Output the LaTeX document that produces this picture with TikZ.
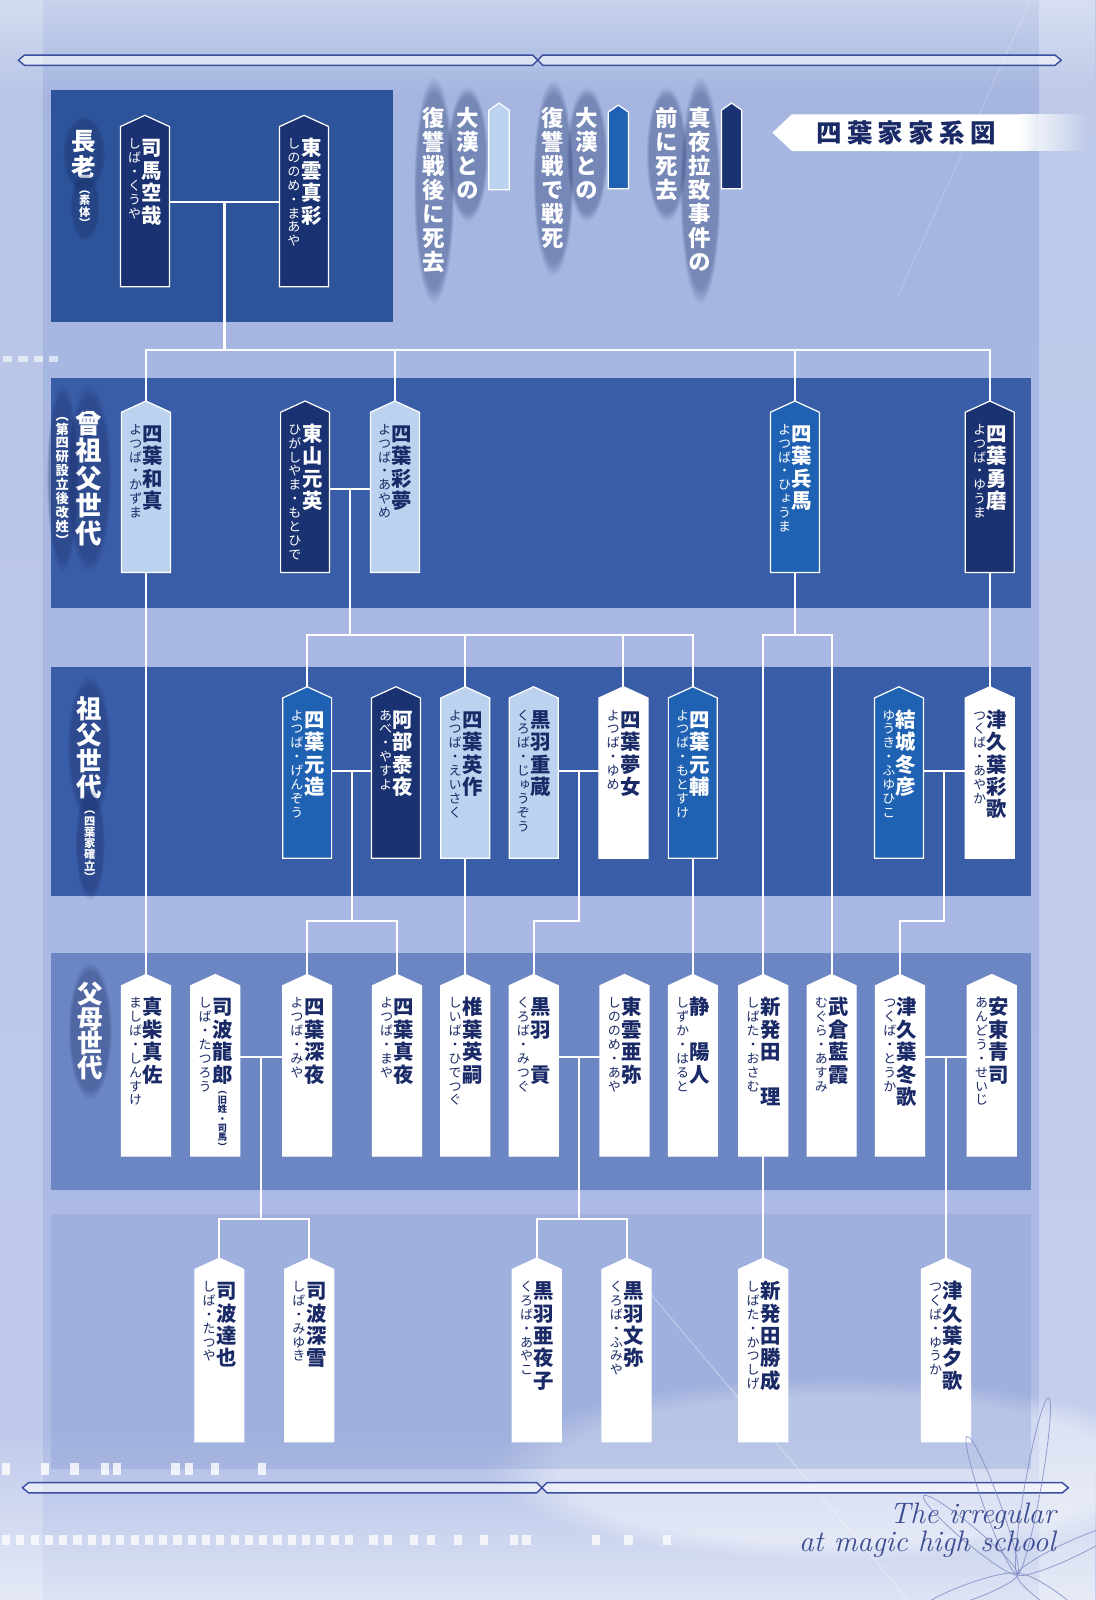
\documentclass[tikz,border=0pt]{standalone}
\usepackage{fontspec}
\newfontfamily\jp{Noto Sans CJK JP}[RawFeature=+vert]
\usetikzlibrary{calc,fadings}

\definecolor{cDark}{HTML}{1B3272}
\definecolor{cMed}{HTML}{1F62B3}
\definecolor{cLight}{HTML}{BCD3F0}
\definecolor{cInk}{HTML}{1A2A66}
\definecolor{cBand1}{HTML}{2D549B}
\definecolor{cBand2}{HTML}{3A5DA8}
\definecolor{cBand4}{HTML}{6C86C4}
\definecolor{cBgTop}{HTML}{A4B5E0}
\definecolor{cBgMid}{HTML}{889DD2}
\definecolor{cBgBot}{HTML}{AEBCE6}
\definecolor{cGlow}{HTML}{15275F}
\definecolor{cOrn}{HTML}{3A4D9E}
\definecolor{cScript}{HTML}{3C4C90}
\definecolor{cPetal}{HTML}{7F8CC4}

\makeatletter
\newdimen\vt@pitch
\newcommand\vtext[3]{\vbox{\offinterlineskip#2\vt@pitch=#1\relax\vt@aux#3\vt@end}}
\def\vt@end{\vt@end@}
\def\vt@aux#1{\ifx#1\vt@end\else\vbox to\vt@pitch{\vss\hbox to 0pt{\hss\vrule height .88em depth .12em width 0pt\relax#1\hss}\vss}\expandafter\vt@aux\fi}
\makeatother
\newcommand\vgap{}

\newcommand\nmfont{\jp\bfseries\fontsize{10pt}{10pt}\selectfont}
\newcommand\rdfont{\jp\fontsize{6.4pt}{6.4pt}\selectfont}
\newcommand\smfont{\jp\bfseries\fontsize{4.5pt}{4.5pt}\selectfont}

\tikzset{
  conn/.style={draw=white, line width=1pt},
  body/.style={rectangle, draw=none, inner sep=0pt, outer sep=0pt, minimum width=24pt},
  tagDK/.style={fill=cDark, draw=white, line width=.6pt},
  tagMD/.style={fill=cMed, draw=white, line width=.6pt},
  tagLT/.style={fill=cLight, draw=white, line width=.6pt},
  tagWH/.style={fill=white, draw=white, line width=.6pt},
  txtDK/.style={text=white},
  txtMD/.style={text=white},
  txtLT/.style={text=cInk},
  txtWH/.style={text=cInk},
  vcol/.style={anchor=north, inner sep=0pt, outer sep=0pt},
  halo/.style={fill=cGlow, opacity=.32, path fading=circle with fuzzy edge 15 percent},
  orn/.style={draw=cOrn, line width=.7pt, fill=white, fill opacity=.55, line join=miter},
  petal/.style={draw=cPetal, line width=.4pt, opacity=.8},
}

% #1 id, #2 cx, #3 apex y, #4 bottom y, #5 kind, #6 name, #7 reading
\newcommand\person[7]{%
  \coordinate (#1-top) at (#2,#3);
  \node[body, minimum height={(#4-#3-11)*0.5pt}] (#1) at (#2,{(#3+11+#4)/2}) {};
  \filldraw[tag#5] (#1.south west) -- (#1.north west) -- (#1-top) -- (#1.north east) -- (#1.south east) -- cycle;
  \node[vcol, txt#5] (#1-n) at (#2+7,#3+21) {\vtext{11pt}{\nmfont}{#6}};
  \node[vcol, txt#5] (#1-r) at (#2-10,#3+21) {\vtext{6.8pt}{\rdfont}{#7}};
}
\newcommand\swatch[5]{%
  \coordinate (#1-top) at (#2,#3);
  \node[body, minimum width=10pt, minimum height={(#4-#3-7)*0.5pt}] (#1) at (#2,{(#3+7+#4)/2}) {};
  \filldraw[tag#5] (#1.south west) -- (#1.north west) -- (#1-top) -- (#1.north east) -- (#1.south east) -- cycle;
}
% #1 id, #2 x, #3 top y, #4 size (pt number), #5 pitch (pt number), #6 chars, #7 glyph count
\newcommand\glowlabel[7]{%
  \pgfmathsetmacro\glowh{2*#7*#5}%
  \fill[halo] (#2-#4-9,{#3-0.14*\glowh-6}) rectangle (#2+#4+9,{#3+1.14*\glowh+6});
  \node[vcol, text=white] (#1) at (#2,#3) {\vtext{#5pt}{\jp\bfseries\fontsize{#4pt}{#4pt}\selectfont}{#6}};
}

\begin{document}
\begin{tikzpicture}[x=0.5pt, y=-0.5pt]
\useasboundingbox (0,0) rectangle (1074,1568);

% ---------- background ----------
\shade[top color=cBgTop, middle color=cBgMid, bottom color=cBgBot] (0,0) rectangle (1074,1568);
\fill[white, opacity=.22] (0,0) rectangle (42,1568);
\fill[white, opacity=.28] (1018,0) rectangle (1074,1568);
\fill[white, opacity=.4, path fading=south] (0,0) rectangle (1074,95);
\fill[white, opacity=.6, path fading=north] (0,1400) rectangle (1074,1568);
\fill[white, opacity=.45, path fading=circle with fuzzy edge 20 percent] (820,1440) ellipse [x radius=170pt, y radius=45pt];

% ---------- bands ----------
\fill[cBand1] (50,88) rectangle (385,316);
\fill[cBand2] (50,370) rectangle (1010,596);
\fill[cBand2] (50,654) rectangle (1010,878);
\fill[cBand4] (50,934) rectangle (1010,1166);
\fill[cBgMid, opacity=.35] (50,1190) rectangle (1010,1440);

% ---------- streaks and dashes ----------
\draw[white, opacity=.3, line width=.6pt] (610,1235) -- (890,1568);
\draw[white, opacity=.2, line width=.5pt] (1010,0) -- (880,290);
\foreach \x in {3,18,33,48} \fill[white, opacity=.6] (\x,349) rectangle ++(9,6);
\foreach \x in {2,40,69,99,111,168,181,207,253} \fill[white, opacity=.8] (\x,1434) rectangle ++(8,11);
\foreach \x in {0,14,...,336} \fill[white, opacity=.75] (\x+2,1504) rectangle ++(8,10);
\foreach \x in {362,376,402,418,445,470,500,512,580,612,650} \fill[white, opacity=.75] (\x,1504) rectangle ++(8,10);

% ---------- ornaments ----------
\draw[orn] (18,59) -- (24,54) -- (522,54) -- (532,64) -- (1034,64) -- (1040,59) -- (1034,54) -- (532,54) -- (522,64) -- (24,64) -- cycle;
\draw[orn] (22,1458) -- (28,1453) -- (526,1453) -- (536,1463) -- (1041,1463) -- (1047,1458) -- (1041,1453) -- (536,1453) -- (526,1463) -- (28,1463) -- cycle;

% ---------- title ----------
\fill[white] (757,130) -- (776,112) -- (1000,112) -- (1000,148) -- (776,148) -- cycle;
\fill[white, path fading=east] (999.5,112) rectangle (1066,148);
\node[text=cInk, inner sep=0pt] (title) at (888,130) {\jp\bfseries\fontsize{12.5pt}{12.5pt}\selectfont 四\kern2.6pt 葉\kern2.6pt 家\kern2.6pt 家\kern2.6pt 系\kern2.6pt 図};

% ---------- legend ----------
\swatch{swD}{717}{101}{185}{DK}
\swatch{swM}{606}{103}{185}{MD}
\swatch{swL}{489}{101}{186}{LT}
\glowlabel{leg1a}{686}{104}{11}{11.75}{真夜拉致事件の}{7}
\glowlabel{leg1b}{653}{104}{11}{11.75}{前に死去}{4}
\glowlabel{leg2a}{575}{104}{11}{11.75}{大漢との}{4}
\glowlabel{leg2b}{542}{104}{11}{11.75}{復讐戦で戦死}{6}
\glowlabel{leg3a}{458}{104}{11}{11.75}{大漢との}{4}
\glowlabel{leg3b}{425}{104}{11}{11.75}{復讐戦後に死去}{7}

% ---------- generation labels ----------
\glowlabel{g1}{82}{126}{12}{12.5}{長老}{2}
\glowlabel{g1s}{83}{180}{5.5}{5.5}{︵素体︶}{4}
\glowlabel{g2}{87}{401}{13}{13.5}{曾祖父世代}{5}
\glowlabel{g2s}{61}{400}{6.5}{6.8}{︵第四研設立後改姓︶}{10}
\glowlabel{g3}{87}{682}{12.5}{12.75}{祖父世代}{4}
\glowlabel{g3s}{88}{788}{5.5}{5.5}{︵四葉家確立︶}{7}
\glowlabel{g4}{88}{962}{12.5}{12}{父母世代}{4}

% ---------- persons ----------
% Row 1
\person{kuuya}{142}{113}{281}{DK}{司馬空哉}{しば・くうや}
\person{maaya}{298}{113}{281}{DK}{東雲真彩}{しののめ・まあや}
% Row 2
\person{kazuma}{143}{393}{561}{LT}{四葉和真}{よつば・かずま}
\person{motohide}{299}{393}{561}{DK}{東山元英}{ひがしやま・もとひで}
\person{ayame}{387}{393}{561}{LT}{四葉彩夢}{よつば・あやめ}
\person{hyouma}{779}{393}{561}{MD}{四葉兵馬}{よつば・ひょうま}
\person{yuuma}{970}{393}{561}{DK}{四葉勇磨}{よつば・ゆうま}
% Row 3
\person{genzou}{301}{673}{841}{MD}{四葉元造}{よつば・げんぞう}
\person{yasuyo}{388}{673}{841}{DK}{阿部泰夜}{あべ・やすよ}
\person{eisaku}{456}{673}{841}{LT}{四葉英作}{よつば・えいさく}
\person{juuzou}{523}{673}{841}{LT}{黒羽重蔵}{くろば・じゅうぞう}
\person{yume}{611}{673}{841}{WH}{四葉夢女}{よつば・ゆめ}
\person{motosuke}{679}{673}{841}{MD}{四葉元輔}{よつば・もとすけ}
\person{fuyuhiko}{881}{673}{841}{MD}{結城冬彦}{ゆうき・ふゆひこ}
\person{ayaka}{970}{673}{841}{WH}{津久葉彩歌}{つくば・あやか}
% Row 4
\person{shinsuke}{143}{955}{1133}{WH}{真柴真佐}{ましば・しんすけ}
\person{tatsurou}{211}{955}{1133}{WH}{司波龍郎}{しば・たつろう}
\node[vcol, txtWH] (tatsurou-s) at (218,1064) {\vtext{4.6pt}{\smfont}{︵旧姓・司馬︶}};
\person{miya}{301}{955}{1133}{WH}{四葉深夜}{よつば・みや}
\person{maya}{389}{955}{1133}{WH}{四葉真夜}{よつば・まや}
\person{hidetsugu}{456}{955}{1133}{WH}{椎葉英嗣}{しいば・ひでつぐ}
\person{mitsugu}{523}{955}{1133}{WH}{黒羽\vgap 貢}{くろば・みつぐ}
\person{aya}{612}{955}{1133}{WH}{東雲亜弥}{しののめ・あや}
\person{haruto}{679}{955}{1133}{WH}{静\vgap 陽人}{しずか・はると}
\person{osamu}{748}{955}{1133}{WH}{新発田\vgap 理}{しばた・おさむ}
\person{asumi}{815}{955}{1133}{WH}{武倉藍霞}{むぐら・あすみ}
\person{touka}{882}{955}{1133}{WH}{津久葉冬歌}{つくば・とうか}
\person{seiji}{972}{955}{1133}{WH}{安東青司}{あんどう・せいじ}
% Row 5
\person{tatsuya}{215}{1233}{1413}{WH}{司波達也}{しば・たつや}
\person{miyuki}{303}{1233}{1413}{WH}{司波深雪}{しば・みゆき}
\person{ayako}{526}{1233}{1413}{WH}{黒羽亜夜子}{くろば・あやこ}
\person{fumiya}{614}{1233}{1413}{WH}{黒羽文弥}{くろば・ふみや}
\person{katsushige}{748}{1233}{1413}{WH}{新発田勝成}{しばた・かつしげ}
\person{yuuka}{927}{1233}{1413}{WH}{津久葉夕歌}{つくば・ゆうか}

% ---------- connectors ----------
\coordinate (Y1) at (0,343);
\coordinate (Y2) at (0,622);
\coordinate (Y3) at (0,903);
\coordinate (Y4) at (0,1195);

\draw[conn] ([yshift=2.25pt]kuuya.east) -- coordinate (m1) ([yshift=2.25pt]maaya.west);
\draw[conn] (m1) -- (m1 |- Y1);
\draw[conn] (kazuma-top) |- (m1 |- Y1) -| (yuuma-top);
\draw[conn] (ayame-top) -- (ayame-top |- Y1);
\draw[conn] (hyouma-top) -- (hyouma-top |- Y1);

\draw[conn] ([yshift=1.75pt]motohide.east) -- coordinate (m2) ([yshift=1.75pt]ayame.west);
\draw[conn] (m2) -- (m2 |- Y2);
\draw[conn] (genzou-top) |- (m2 |- Y2) -| (motosuke-top);
\draw[conn] (eisaku-top) -- (eisaku-top |- Y2);
\draw[conn] (yume-top) -- (yume-top |- Y2);
\draw[conn] (hyouma.south) -- (hyouma.south |- Y2);
\draw[conn] (osamu-top) |- (hyouma.south |- Y2) -| (asumi-top);
\draw[conn] (yuuma.south) -- (ayaka-top);
\draw[conn] (kazuma.south) -- (shinsuke-top);
\draw[conn] (eisaku.south) -- (hidetsugu-top);
\draw[conn] (motosuke.south) -- (haruto-top);

\draw[conn] ([yshift=3.25pt]genzou.east) -- coordinate (m3a) ([yshift=3.25pt]yasuyo.west);
\draw[conn] ([yshift=3.25pt]juuzou.east) -- coordinate (m3b) ([yshift=3.25pt]yume.west);
\draw[conn] ([yshift=3.25pt]fuyuhiko.east) -- coordinate (m3c) ([yshift=3.25pt]ayaka.west);
\draw[conn] (m3a) -- (m3a |- Y3);
\draw[conn] (miya-top) |- (m3a |- Y3) -| (maya-top);
\draw[conn] (m3b) -- (m3b |- Y3) -| (mitsugu-top);
\draw[conn] (m3c) -- (m3c |- Y3) -| (touka-top);

\draw[conn] ([yshift=6.75pt]tatsurou.east) -- coordinate (m4a) ([yshift=6.75pt]miya.west);
\draw[conn] ([yshift=6.75pt]mitsugu.east) -- coordinate (m4b) ([yshift=6.75pt]aya.west);
\draw[conn] ([yshift=6.75pt]touka.east) -- coordinate (m4c) ([yshift=6.75pt]seiji.west);
\draw[conn] (m4a) -- (m4a |- Y4);
\draw[conn] (tatsuya-top) |- (m4a |- Y4) -| (miyuki-top);
\draw[conn] (m4b) -- (m4b |- Y4);
\draw[conn] (ayako-top) |- (m4b |- Y4) -| (fumiya-top);
\draw[conn] (m4c) -- (m4c |- yuuka-top);
\draw[conn] (osamu.south) -- (katsushige-top);

% ---------- petals and logo ----------
\begin{scope}[shift={(997,1543)}]
  \foreach \a/\r in {80/44pt, 140/30pt, 25/28pt, -35/20pt, 200/25pt, 110/36pt}
    \draw[petal, rotate=\a] (\r,0) ellipse [x radius=\r, y radius=4pt];
\end{scope}
\node[anchor=north east, align=right, text=cScript, inner sep=0pt,
      font=\fontsize{14.5pt}{13pt}\itshape\selectfont] (logo) at (1035,1472) {The irregular\\at magic high school};
\end{tikzpicture}
\end{document}
